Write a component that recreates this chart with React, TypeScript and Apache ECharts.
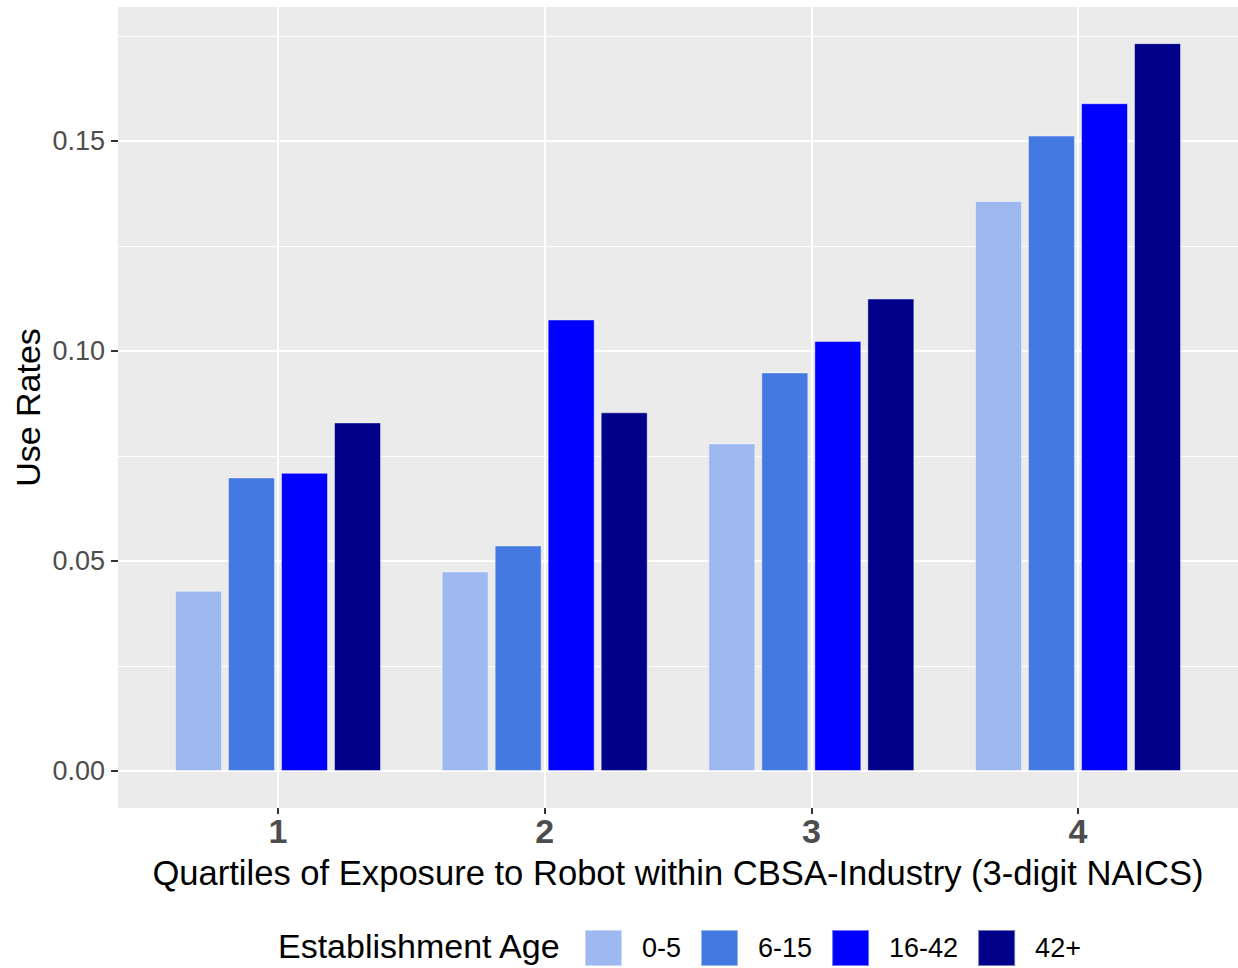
import React, { useEffect, useRef } from "react";
import * as echarts from "echarts";

const quartiles = [1, 2, 3, 4];
const ageGroups = ["0-5", "6-15", "16-42", "42+"];
const age0to5 = [0.0429, 0.0475, 0.078, 0.1357];
const age6to15 = [0.0699, 0.0537, 0.0949, 0.1513];
const age16to42 = [0.071, 0.1075, 0.1024, 0.159];
const age42plus = [0.083, 0.0854, 0.1125, 0.1733];
const colors = ["#9DB9F0", "#4479E1", "#0000FF", "#00008B"];
const yMajorTicks = [0, 0.05, 0.1, 0.15];
const yMinorTicks = [0.025, 0.075, 0.125, 0.175];

const FONT = "'Liberation Sans', Arial, sans-serif";

export default function App() {
  const ref = useRef<HTMLDivElement>(null);
  useEffect(() => {
    document.body.style.margin = "0";
    if (!ref.current) return;
    const chart = echarts.init(ref.current, null, { renderer: "svg" });
    const seriesValues = [age0to5, age6to15, age16to42, age42plus];
    const yMin = -0.00881;
    const yMax = 0.181905;
    chart.setOption({
      animation: false,
      textStyle: { fontFamily: FONT },
      grid: {
        left: 118,
        top: 7,
        width: 1120,
        height: 801,
        show: true,
        backgroundColor: "#EBEBEB",
        borderWidth: 0,
        containLabel: false,
        outerBoundsMode: "none",
      },
      xAxis: {
        type: "value",
        min: 0.4,
        max: 4.6,
        axisLine: { show: false, onZero: false },
        axisTick: {
          show: true,
          customValues: quartiles,
          length: 6,
          lineStyle: { color: "#333333", width: 2 },
        },
        axisLabel: {
          customValues: quartiles,
          formatter: (v: number) => String(v),
          fontSize: 34,
          fontWeight: "bold",
          color: "#4D4D4D",
          margin: 6,
          fontFamily: FONT,
        },
        splitLine: { show: true, lineStyle: { color: "#FFFFFF", width: 2 } },
        name: "Quartiles of Exposure to Robot within CBSA-Industry (3-digit NAICS)",
        nameLocation: "middle",
        nameGap: 47,
        nameMoveOverlap: false,
        nameTextStyle: { fontSize: 34.6, color: "#000000", fontFamily: FONT },
      },
      yAxis: [
        {
          type: "value",
          min: yMin,
          max: yMax,
          axisLine: { show: false, onZero: false },
          axisTick: {
            show: true,
            customValues: yMajorTicks,
            length: 7,
            lineStyle: { color: "#333333", width: 2 },
          },
          axisLabel: {
            customValues: yMajorTicks,
            formatter: (v: number) => v.toFixed(2),
            fontSize: 27,
            color: "#4D4D4D",
            margin: 13,
            fontFamily: FONT,
          },
          splitLine: { show: true, lineStyle: { color: "#FFFFFF", width: 2 } },
          name: "Use Rates",
          nameLocation: "middle",
          nameGap: 73,
          nameMoveOverlap: false,
          nameTextStyle: { fontSize: 34, color: "#000000", fontFamily: FONT },
        },
        {
          type: "value",
          min: yMin,
          max: yMax,
          position: "left",
          axisLine: { show: false, onZero: false },
          axisTick: { show: false, customValues: yMinorTicks },
          axisLabel: { show: false, customValues: yMinorTicks },
          splitLine: { show: true, lineStyle: { color: "#FFFFFF", width: 1 } },
        },
      ],
      legend: {
        left: 584,
        top: 929,
        padding: 0,
        itemWidth: 37,
        itemHeight: 36,
        itemGap: 19,
        icon: "rect",
        data: ageGroups,
        textStyle: {
          fontSize: 27,
          color: "#000000",
          padding: [0, 0, 0, 15],
          fontFamily: FONT,
        },
      },
      graphic: [
        {
          type: "text",
          left: 278,
          top: 929,
          style: {
            text: "Establishment Age",
            fontSize: 34,
            fill: "#000000",
            fontFamily: FONT,
          },
        },
      ],
      series: ageGroups.map((name, i) => ({
        name,
        type: "bar",
        yAxisIndex: 0,
        barWidth: 47,
        barGap: "12.8%",
        itemStyle: {
          color: colors[i],
          borderColor: "rgba(255,255,255,0.45)",
          borderWidth: 1,
        },
        data: quartiles.map((q, j) => [q, seriesValues[i][j]]),
      })),
    });
    return () => chart.dispose();
  }, []);
  return <div ref={ref} style={{ width: 1238, height: 968 }} />;
}
